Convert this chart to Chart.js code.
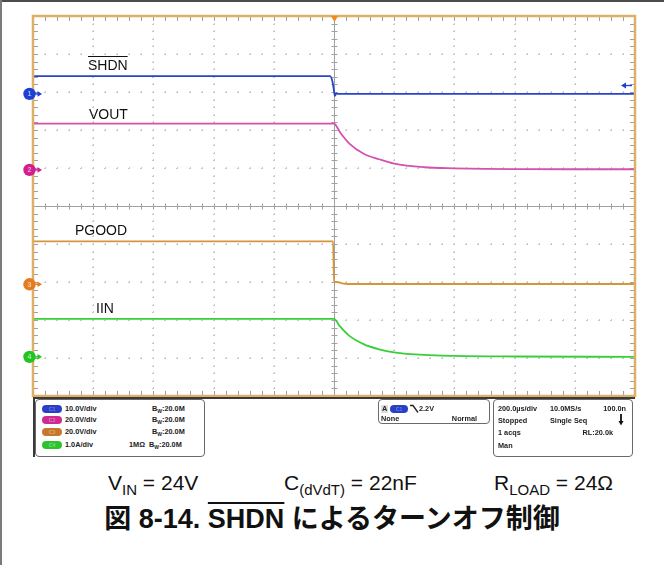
<!DOCTYPE html>
<html>
<head>
<meta charset="utf-8">
<script src="https://cdn.jsdelivr.net/npm/chart.js@4.4.1/dist/chart.umd.min.js"></script>
<style>
  html, body { margin: 0; padding: 0; background: #fff; }
  #page { position: relative; width: 664px; height: 565px; overflow: hidden;
          font-family: "Liberation Sans", Arial, sans-serif; background: #fff; }
  #frameTop { position: absolute; left: 0; top: 0; width: 664px; height: 2px; background: #4c4c4c; }
  #frameLeft { position: absolute; left: 0; top: 0; width: 2px; height: 565px; background: #7a7a7a; }
  #scope { position: absolute; left: 0; top: 0; }
  .trace-label { position: absolute; font-size: 14px; color: #111; line-height: 14px; }
  .ovl { text-decoration: overline; text-decoration-thickness: 1px; }
  /* acquisition info strip */
  #info { position: absolute; left: 33px; top: 397px; width: 602px; height: 60px;
          border-top: 2px solid #3a3a3a; border-left: 2px solid #3a3a3a; box-sizing: border-box; }
  .box { position: absolute; border: 1px solid #6a6a6a; border-radius: 4px; box-sizing: border-box; background: #fff; }
  .t { position: absolute; font-size: 7.3px; font-weight: bold; color: #222; line-height: 8px; white-space: nowrap; }
  .tr { text-align: right; }
  .pill { position: absolute; width: 20px; height: 8px; border-radius: 4px; font-size: 5px; line-height: 8px;
          text-align: center; font-weight: bold; }
  .sub { font-size: 5px; vertical-align: -2px; }
  #cond { position: absolute; top: 471px; left: 0; width: 664px; height: 24px; font-size: 21px; line-height: 24px; color: #111; }
  #cond span.c { position: absolute; top: 0; white-space: nowrap; }
  #cond sub { font-size: 15px; vertical-align: -5px; line-height: 0; }
  #title { position: absolute; top: 504px; left: 0; width: 664px; text-align: center; line-height: 30px;
           font-family: "Liberation Sans", Arial, "Noto Sans CJK JP", sans-serif;
           font-weight: bold; font-size: 27px; color: #111; white-space: nowrap; }
  #title .ovl { text-decoration-thickness: 2px; }
</style>
</head>
<body>
<div id="page">
  <canvas id="scope" width="664" height="400"></canvas>

  <div class="trace-label" style="left:88px; top:58px;"><span class="ovl">SHDN</span></div>
  <div class="trace-label" style="left:89px; top:107px;">VOUT</div>
  <div class="trace-label" style="left:75px; top:223px;">PGOOD</div>
  <div class="trace-label" style="left:96px; top:301px;">IIN</div>

  <div id="info"></div>

  <!-- channel settings -->
  <div class="box" style="left:35px; top:399px; width:170px; height:58px;"></div>
  <div class="pill" style="left:42px; top:405px; background:#2a3fc8; color:#6d7de0;">C1</div>
  <div class="pill" style="left:42px; top:416px; background:#cf2a93; color:#e27cbd;">C2</div>
  <div class="pill" style="left:42px; top:428px; background:#c8782c; color:#e0a870;">C3</div>
  <div class="pill" style="left:42px; top:441px; background:#2ec32e; color:#7fe07f;">C4</div>
  <div class="t" style="left:65px; top:405px;">10.0V/div</div>
  <div class="t" style="left:65px; top:416px;">20.0V/div</div>
  <div class="t" style="left:65px; top:428px;">20.0V/div</div>
  <div class="t" style="left:65px; top:441px;">1.0A/div</div>
  <div class="t" style="left:152px; top:405px;">B<span class="sub">W</span>:20.0M</div>
  <div class="t" style="left:152px; top:416px;">B<span class="sub">W</span>:20.0M</div>
  <div class="t" style="left:152px; top:428px;">B<span class="sub">W</span>:20.0M</div>
  <div class="t" style="left:129px; top:441px;">1MΩ&nbsp;&nbsp;B<span class="sub">W</span>:20.0M</div>

  <!-- trigger settings -->
  <div class="box" style="left:378px; top:399px; width:112px; height:25px;"></div>
  <div class="t" style="left:381px; top:405px; background:#ddd; padding:0 1px;">A</div>
  <div class="pill" style="left:390px; top:405px; width:18px; background:#2a3fc8; color:#6d7de0;">C1</div>
  <svg style="position:absolute; left:410px; top:404px;" width="9" height="10">
    <path d="M0 1.5 H3 L8 8.5" stroke="#222" stroke-width="1.3" fill="none"/>
  </svg>
  <div class="t" style="left:419px; top:405px;">2.2V</div>
  <div class="t" style="left:381px; top:415px;">None</div>
  <div class="t tr" style="left:447px; top:415px; width:30px;">Normal</div>

  <!-- timebase / acquisition -->
  <div class="box" style="left:493px; top:399px; width:140px; height:58px;"></div>
  <div class="t" style="left:498px; top:405px;">200.0µs/div</div>
  <div class="t" style="left:550px; top:405px;">10.0MS/s</div>
  <div class="t tr" style="left:596px; top:405px; width:30px;">100.0n</div>
  <div class="t" style="left:498px; top:417px;">Stopped</div>
  <div class="t" style="left:550px; top:417px;">Single Seq</div>
  <svg style="position:absolute; left:618px; top:414px;" width="6" height="12">
    <path d="M3 0 V9" stroke="#111" stroke-width="1.8"/>
    <path d="M0.5 7 L3 11.5 L5.5 7 Z" fill="#111"/>
  </svg>
  <div class="t" style="left:498px; top:429px;">1 acqs</div>
  <div class="t tr" style="left:573px; top:429px; width:40px;">RL:20.0k</div>
  <div class="t" style="left:498px; top:442px;">Man</div>

  <div id="cond">
    <span class="c" style="left:108px;">V<sub>IN</sub> = 24V</span>
    <span class="c" style="left:284px;">C<sub>(dVdT)</sub> = 22nF</span>
    <span class="c" style="left:494px;">R<sub>LOAD</sub> = 24Ω</span>
  </div>
  <div id="title">図 8-14. <span class="ovl">SHDN</span> によるターンオフ制御</div>

  <div id="frameTop"></div>
  <div id="frameLeft"></div>
</div>

<script>
// Time axis in microseconds (200 µs/div, trigger at centre)
const timeRange = [-1000, 1000];

// CH1: SHDN (V)
const shdnT = [-1000, -13, -5, 0, 3, 8, 15, 1000];
const shdnV = [4.7, 4.7, 3.2, 0.8, -0.5, 0.1, 0.0, 0.0];

// CH2: VOUT (V)
const voutT = [-1000, 0, 20, 50, 100, 150, 200, 300, 400, 500, 600, 800, 1000];
const voutV = [24.4, 24.4, 19.8, 14.0, 8.4, 5.6, 3.3, 1.4, 0.8, 0.5, 0.4, 0.35, 0.35];

// CH3: PGOOD (V)
const pgoodT = [-1000, -3, 0, 10, 25, 45, 1000];
const pgoodV = [22.6, 22.6, 1.4, 1.2, 0.6, 0.15, 0.15];

// CH4: IIN (A)
const iinT = [-1000, 0, 20, 50, 100, 150, 200, 300, 400, 600, 1000];
const iinA = [1.0, 1.0, 0.80, 0.56, 0.33, 0.20, 0.12, 0.05, 0.025, 0.01, 0.0];

// Channel settings
const channelNames = ['SHDN', 'VOUT', 'PGOOD', 'IIN'];
const unitsPerDiv = [10, 20, 20, 1];
const groundDiv = [7.95, 5.95, 2.94, 1.03];   // ground marker, divisions above bottom
const triggerLevel = 2.2;                       // V on CH1
const channelColors = ['#2a46c8', '#d452ad', '#d4963c', '#38cf38'];
const markerColors = ['#1c3fd6', '#d21f8f', '#e57a1e', '#22c422'];

const NDIV = 10;

function pts(ts, vs) { return ts.map((t, i) => ({ x: t, y: vs[i] })); }

const yScales = {};
for (let c = 0; c < 4; c++) {
  yScales['y' + (c + 1)] = {
    type: 'linear', display: false,
    min: -groundDiv[c] * unitsPerDiv[c],
    max: (NDIV - groundDiv[c]) * unitsPerDiv[c]
  };
}

const FRAME = '#dcb066';
const TICK = '#a0a0a0';

const scopeGrid = {
  id: 'scopeGrid',
  beforeDatasetsDraw(chart) {
    const { ctx, chartArea: a, scales: { x } } = chart;
    const H = a.bottom - a.top;
    const dy = H / NDIV;
    ctx.save();
    // dotted division lines
    ctx.fillStyle = '#c8c8c8';
    for (let k = 1; k < NDIV; k++) {
      if (k === 5) continue;
      const gx = Math.round(x.getPixelForValue(timeRange[0] + 200 * k));
      for (let m = 1; m < NDIV * 5; m++) {
        const py = Math.round(a.top + m * dy / 5);
        ctx.fillRect(gx - 1, py, 2, 1);
        ctx.fillRect(gx, py - 1, 1, 2);
      }
      const gy = Math.round(a.top + k * dy);
      for (let m = 1; m < NDIV * 5; m++) {
        const px = Math.round(x.getPixelForValue(timeRange[0] + 40 * m));
        ctx.fillRect(px - 1, gy, 2, 1);
        ctx.fillRect(px, gy - 1, 1, 2);
      }
    }
    // centre cross with minor ticks
    const cx = Math.round(x.getPixelForValue(0)) + 0.5;
    const cy = Math.round(a.top + 5 * dy) + 0.5;
    ctx.strokeStyle = TICK;
    ctx.lineWidth = 1;
    ctx.beginPath();
    ctx.moveTo(cx, a.top); ctx.lineTo(cx, a.bottom);
    ctx.moveTo(a.left, cy); ctx.lineTo(a.right, cy);
    for (let m = 1; m < NDIV * 5; m++) {
      const py = Math.round(a.top + m * dy / 5) + 0.5;
      ctx.moveTo(cx - 3, py); ctx.lineTo(cx + 3, py);
      const px = Math.round(x.getPixelForValue(timeRange[0] + 40 * m)) + 0.5;
      ctx.moveTo(px, cy - 3); ctx.lineTo(px, cy + 3);
    }
    // edge ticks
    for (let m = 1; m < NDIV * 5; m++) {
      const py = Math.round(a.top + m * dy / 5) + 0.5;
      ctx.moveTo(a.left, py); ctx.lineTo(a.left + 5, py);
      ctx.moveTo(a.right, py); ctx.lineTo(a.right - 5, py);
      const px = Math.round(x.getPixelForValue(timeRange[0] + 40 * m)) + 0.5;
      ctx.moveTo(px, a.top); ctx.lineTo(px, a.top + 5);
      ctx.moveTo(px, a.bottom); ctx.lineTo(px, a.bottom - 5);
    }
    ctx.stroke();
    ctx.restore();
  },
  afterDatasetsDraw(chart) {
    const { ctx, chartArea: a, scales } = chart;
    ctx.save();
    // tan graticule border
    ctx.strokeStyle = FRAME;
    ctx.lineWidth = 2.5;
    ctx.strokeRect(a.left, a.top, a.right - a.left, a.bottom - a.top);

    // trigger position marker (top)
    const tx = scales.x.getPixelForValue(0) + 0.5;
    ctx.fillStyle = '#f08a1c';
    ctx.beginPath();
    ctx.moveTo(tx - 3.5, a.top); ctx.lineTo(tx + 3.5, a.top); ctx.lineTo(tx, a.top + 6);
    ctx.closePath(); ctx.fill();

    // trigger level arrow (right, CH1)
    const ly = scales.y1.getPixelForValue(triggerLevel);
    ctx.strokeStyle = markerColors[0];
    ctx.fillStyle = markerColors[0];
    ctx.lineWidth = 1.3;
    ctx.beginPath();
    ctx.moveTo(a.right - 3, ly); ctx.lineTo(a.right - 11, ly); ctx.stroke();
    ctx.beginPath();
    ctx.moveTo(a.right - 14, ly); ctx.lineTo(a.right - 9, ly - 3); ctx.lineTo(a.right - 9, ly + 3);
    ctx.closePath(); ctx.fill();

    // channel ground markers (left)
    for (let c = 0; c < 4; c++) {
      const gy = scales['y' + (c + 1)].getPixelForValue(0);
      const mx = a.left - 3.5;
      ctx.fillStyle = markerColors[c];
      ctx.strokeStyle = markerColors[c];
      ctx.beginPath(); ctx.arc(mx, gy, 6.2, 0, Math.PI * 2); ctx.fill();
      ctx.lineWidth = 1.4;
      ctx.beginPath(); ctx.moveTo(mx + 4, gy); ctx.lineTo(mx + 9, gy); ctx.stroke();
      ctx.beginPath();
      ctx.moveTo(mx + 12.5, gy); ctx.lineTo(mx + 8, gy - 2.8); ctx.lineTo(mx + 8, gy + 2.8);
      ctx.closePath(); ctx.fill();
      ctx.fillStyle = 'rgba(255,255,255,0.6)';
      ctx.font = 'bold 7px "Liberation Sans", Arial, sans-serif';
      ctx.textAlign = 'center'; ctx.textBaseline = 'middle';
      ctx.fillText(String(c + 1), mx, gy + 0.5);
    }
    ctx.restore();
  }
};

const series = [pts(shdnT, shdnV), pts(voutT, voutV), pts(pgoodT, pgoodV), pts(iinT, iinA)];

new Chart(document.getElementById('scope'), {
  type: 'line',
  data: {
    datasets: series.map((d, c) => ({
      label: channelNames[c],
      data: d,
      yAxisID: 'y' + (c + 1),
      borderColor: channelColors[c],
      borderWidth: 1.8,
      pointRadius: 0,
      cubicInterpolationMode: 'monotone',
      fill: false
    }))
  },
  options: {
    responsive: false,
    animation: false,
    events: [],
    layout: { padding: { left: 33, right: 29, top: 16, bottom: 4 } },
    plugins: { legend: { display: false }, tooltip: { enabled: false } },
    scales: Object.assign({
      x: { type: 'linear', display: false, min: timeRange[0], max: timeRange[1] }
    }, yScales)
  },
  plugins: [scopeGrid]
});
</script>
</body>
</html>
